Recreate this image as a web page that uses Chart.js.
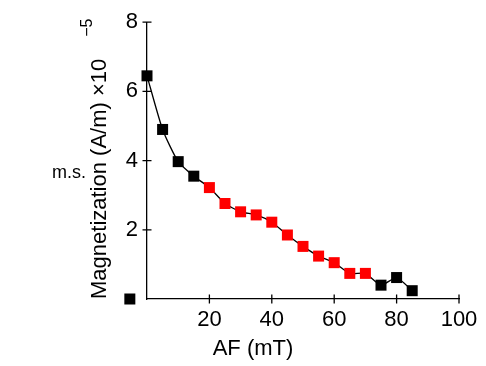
<!DOCTYPE html>
<html>
<head>
<meta charset="utf-8">
<script src="https://cdn.jsdelivr.net/npm/chart.js@4/dist/chart.umd.min.js"></script>
<style>
    html, body { margin: 0; padding: 0; background: #fff; }
    #wrap { width: 486px; height: 366px; }
</style>
</head>
<body>
<div id="wrap"><canvas id="myChart"></canvas></div>
<script>
//Data
let afSteps = [0, 5, 10, 15, 20, 25, 30, 35, 40, 45, 50, 55, 60, 65, 70, 75, 80, 85];
let magnetization = [6.45, 4.9, 3.97, 3.55, 3.22, 2.76, 2.52, 2.43, 2.22, 1.85, 1.52, 1.24, 1.05, 0.74, 0.74, 0.40, 0.62, 0.24];
let usedInFit = [false, false, false, false, true, true, true, true, true, true, true, true, true, true, true, false, false, false];
let msPoint = {x: -5.5, y: 0};
let xTicks = [20, 40, 60, 80, 100];
let yTicks = [2, 4, 6, 8];

let font = 'Liberation Sans, Arial, sans-serif';
let markerSide = 11;

//Tick marks crossing the axes, m.s. marker and titles
let axisExtras = {
    id: 'axisExtras',
    afterDraw: function (chart) {
        let ctx = chart.ctx;
        let xs = chart.scales.x;
        let ys = chart.scales.y;
        let area = chart.chartArea;
        ctx.save();
        ctx.strokeStyle = '#000';
        ctx.lineWidth = 1.3;
        ctx.beginPath();
        xTicks.forEach(function (v) {
            let px = xs.getPixelForValue(v);
            ctx.moveTo(px, area.bottom - 4.5);
            ctx.lineTo(px, area.bottom + 4.5);
        });
        yTicks.forEach(function (v) {
            let py = ys.getPixelForValue(v);
            ctx.moveTo(area.left - 4.5, py);
            ctx.lineTo(area.left + 4.5, py);
        });
        ctx.stroke();

        //m.s. marker sits left of the y axis
        ctx.fillStyle = '#000';
        let mx = xs.getPixelForValue(msPoint.x);
        let my = ys.getPixelForValue(msPoint.y);
        ctx.fillRect(mx - markerSide / 2, my - markerSide / 2, markerSide, markerSide);

        //x title
        ctx.font = '22px ' + font;
        ctx.textAlign = 'center';
        ctx.textBaseline = 'alphabetic';
        ctx.fillText('AF (mT)', area.left + 106, area.bottom + 56);

        //y title, rotated
        ctx.save();
        ctx.translate(area.left - 41, area.bottom);
        ctx.rotate(-Math.PI / 2);
        ctx.textAlign = 'left';
        let main = 'Magnetization (A/m) \u00d710';
        ctx.fillText(main, 0, 0);
        let w = ctx.measureText(main).width;
        ctx.font = '16px ' + font;
        ctx.fillText('\u22125', w + 22, -14);
        ctx.restore();

        //m.s. label
        ctx.font = '18px ' + font;
        ctx.textAlign = 'left';
        ctx.fillText('m.s.', 52, 178);
        ctx.restore();
    }
};

function loadChart() {
    let ctx = document.getElementById('myChart');
    let points = afSteps.map(function (v, i) {
        return {x: v, y: magnetization[i]};
    });
    let colors = usedInFit.map(function (f) {
        return f ? '#ff0000' : '#000000';
    });
    new Chart(ctx, {
        type: 'scatter',
        data: {
            datasets: [{
                label: 'demag',
                data: points,
                showLine: true,
                clip: false,
                borderColor: '#000',
                borderWidth: 1.3,
                tension: 0.2,
                pointStyle: 'rect',
                pointRadius: markerSide / 2 / Math.SQRT1_2,
                pointHoverRadius: 0,
                pointBorderWidth: 0,
                pointBackgroundColor: colors,
                pointBorderColor: colors
            }]
        },
        options: {
            responsive: true,
            maintainAspectRatio: false,
            animation: false,
            events: [],
            layout: {
                padding: {top: 6, right: 27, bottom: 0, left: 0}
            },
            plugins: {
                legend: {display: false},
                tooltip: {enabled: false}
            },
            scales: {
                x: {
                    type: 'linear',
                    min: 0,
                    max: 100,
                    afterBuildTicks: function (scale) {
                        scale.ticks = xTicks.map(function (v) { return {value: v}; });
                    },
                    afterFit: function (scale) {
                        scale.height = 67;
                    },
                    grid: {display: false, drawTicks: false},
                    border: {display: true, color: '#000', width: 1.3},
                    ticks: {
                        color: '#000',
                        padding: 8,
                        maxRotation: 0,
                        font: {family: font, size: 22}
                    }
                },
                y: {
                    type: 'linear',
                    min: 0,
                    max: 8,
                    afterBuildTicks: function (scale) {
                        scale.ticks = yTicks.map(function (v) { return {value: v}; });
                    },
                    afterFit: function (scale) {
                        scale.width = 147;
                    },
                    grid: {display: false, drawTicks: false},
                    border: {display: true, color: '#000', width: 1.3},
                    ticks: {
                        color: '#000',
                        padding: 9,
                        font: {family: font, size: 22}
                    }
                }
            }
        },
        plugins: [axisExtras]
    });
}

loadChart();
</script>
</body>
</html>
